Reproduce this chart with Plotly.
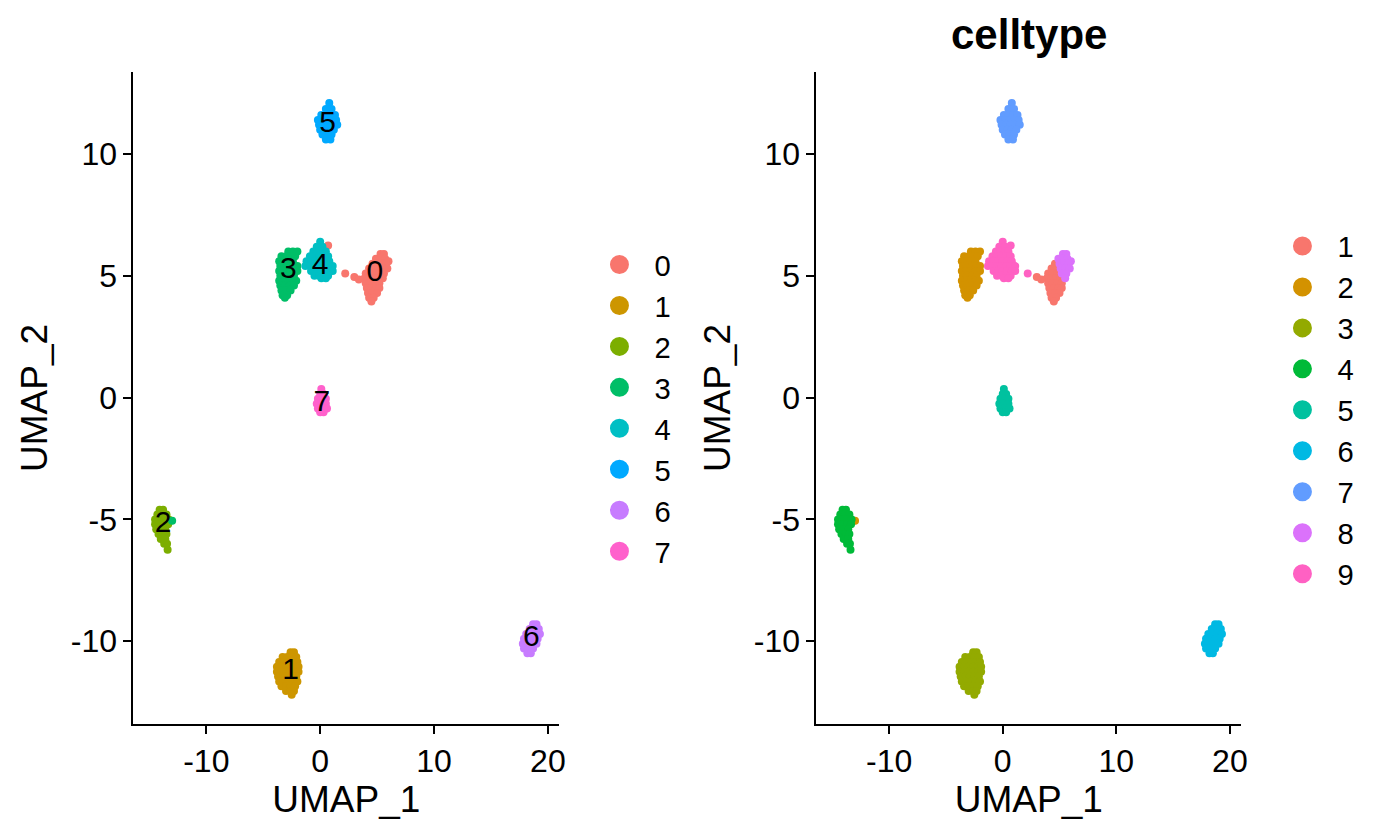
import plotly.graph_objects as go
import numpy as np

FONT = "Liberation Sans, Arial, Helvetica, sans-serif"

cluster_names = ["0", "1", "2", "3", "4", "5", "6", "7"]
cluster_colors = ["#F8766D", "#CD9600", "#7CAE00", "#00BE67",
                  "#00BFC4", "#00A9FF", "#C77CFF", "#FF61CC"]
celltype_names = ["1", "2", "3", "4", "5", "6", "7", "8", "9"]
celltype_colors = ["#F8766D", "#D39200", "#93AA00", "#00BA38", "#00C19F",
                   "#00B9E3", "#619CFF", "#DB72FB", "#FF61C3"]

# cluster 0: (UMAP_1, UMAP_2, celltype)
c0_points = [
    (5.3, 5.9, "8"), (5.6, 5.9, "8"),
    (4.9, 5.7, "8"), (5.3, 5.7, "8"), (5.7, 5.7, "8"), (6.0, 5.6, "8"),
    (4.6, 5.5, "1"), (5.0, 5.5, "8"), (5.4, 5.5, "8"), (5.8, 5.5, "8"),
    (4.3, 5.3, "1"), (4.7, 5.3, "1"), (5.1, 5.3, "8"), (5.5, 5.3, "8"), (5.9, 5.3, "8"),
    (4.0, 5.1, "1"), (4.4, 5.1, "1"), (4.8, 5.1, "1"), (5.2, 5.1, "8"), (5.6, 5.1, "8"),
    (3.9, 4.9, "1"), (4.3, 4.9, "1"), (4.7, 4.9, "1"), (5.1, 4.9, "1"), (5.5, 4.9, "8"),
    (4.0, 4.7, "1"), (4.4, 4.7, "1"), (4.8, 4.7, "1"), (5.2, 4.7, "1"),
    (4.1, 4.5, "1"), (4.5, 4.5, "1"), (4.9, 4.5, "1"), (5.2, 4.5, "1"),
    (4.2, 4.3, "1"), (4.6, 4.3, "1"), (5.0, 4.3, "1"),
    (4.3, 4.1, "1"), (4.7, 4.1, "1"), (4.5, 3.95, "1"),
    (3.0, 4.95, "1"), (3.4, 4.85, "1"), (2.2, 5.1, "9"), (0.7, 6.25, "9"),
]

c1_points = [
    (-2.6, -10.45), (-2.3, -10.45),
    (-3.3, -10.65), (-2.9, -10.65), (-2.5, -10.65), (-2.1, -10.65),
    (-3.6, -10.85), (-3.2, -10.85), (-2.8, -10.85), (-2.4, -10.85), (-2.0, -10.85),
    (-3.8, -11.05), (-3.4, -11.05), (-3.0, -11.05), (-2.6, -11.05), (-2.2, -11.05), (-1.9, -11.05),
    (-3.8, -11.25), (-3.4, -11.25), (-3.0, -11.25), (-2.6, -11.25), (-2.2, -11.25), (-1.9, -11.25),
    (-3.7, -11.45), (-3.3, -11.45), (-2.9, -11.45), (-2.5, -11.45), (-2.1, -11.45),
    (-3.6, -11.65), (-3.2, -11.65), (-2.8, -11.65), (-2.4, -11.65), (-2.0, -11.65),
    (-3.4, -11.85), (-3.0, -11.85), (-2.6, -11.85), (-2.2, -11.85),
    (-3.0, -12.05), (-2.6, -12.05), (-2.3, -12.05), (-2.5, -12.2),
]

c2_points = [
    (-14.1, -4.6), (-13.8, -4.6),
    (-14.3, -4.8), (-13.9, -4.8), (-13.5, -4.8),
    (-14.5, -5.0), (-14.1, -5.0), (-13.7, -5.0), (-13.3, -5.0),
    (-14.5, -5.2), (-14.1, -5.2), (-13.7, -5.2), (-13.35, -5.2),
    (-14.4, -5.4), (-14.0, -5.4), (-13.6, -5.4),
    (-14.2, -5.6), (-13.8, -5.6), (-13.5, -5.6),
    (-14.0, -5.8), (-13.6, -5.8),
    (-13.7, -6.0), (-13.45, -6.0), (-13.4, -6.25),
]

c3_points = [
    (-2.8, 6.0), (-2.4, 6.0), (-2.0, 6.0),
    (-3.4, 5.8), (-3.0, 5.8), (-2.6, 5.8), (-2.2, 5.8),
    (-3.6, 5.6), (-3.2, 5.6), (-2.8, 5.6), (-2.4, 5.6),
    (-3.5, 5.4), (-3.1, 5.4), (-2.7, 5.4), (-2.3, 5.4), (-2.0, 5.4),
    (-3.6, 5.2), (-3.2, 5.2), (-2.8, 5.2), (-2.4, 5.2), (-2.0, 5.2),
    (-3.5, 5.0), (-3.1, 5.0), (-2.7, 5.0), (-2.3, 5.0),
    (-3.6, 4.8), (-3.2, 4.8), (-2.8, 4.8), (-2.4, 4.8), (-2.1, 4.8),
    (-3.5, 4.6), (-3.1, 4.6), (-2.7, 4.6), (-2.3, 4.6),
    (-3.4, 4.4), (-3.0, 4.4), (-2.6, 4.4),
    (-3.3, 4.2), (-2.9, 4.2), (-3.1, 4.1),
    (-13.0, -5.05),
]

c4_points = [
    (0.0, 6.4),
    (-0.3, 6.2), (0.2, 6.2),
    (-0.6, 6.0), (-0.2, 6.0), (0.2, 6.0), (0.5, 6.0),
    (-0.9, 5.8), (-0.5, 5.8), (-0.1, 5.8), (0.3, 5.8), (0.7, 5.8),
    (-1.2, 5.6), (-0.8, 5.6), (-0.4, 5.6), (0.0, 5.6), (0.4, 5.6), (0.8, 5.6),
    (-1.3, 5.4), (-0.9, 5.4), (-0.5, 5.4), (-0.1, 5.4), (0.3, 5.4), (0.7, 5.4), (1.1, 5.4),
    (-0.8, 5.2), (-0.4, 5.2), (0.0, 5.2), (0.4, 5.2), (0.8, 5.2), (1.1, 5.2),
    (-0.5, 5.0), (-0.1, 5.0), (0.3, 5.0), (0.7, 5.0),
    (0.1, 4.9), (0.5, 4.9),
]

c5_points = [
    (0.8, 12.1), (0.5, 11.85), (1.0, 11.85),
    (0.1, 11.6), (0.5, 11.6), (0.9, 11.6), (1.3, 11.6),
    (-0.2, 11.4), (0.2, 11.4), (0.6, 11.4), (1.0, 11.4), (1.4, 11.4),
    (-0.1, 11.2), (0.3, 11.2), (0.7, 11.2), (1.1, 11.2), (1.5, 11.2),
    (0.0, 11.0), (0.4, 11.0), (0.8, 11.0), (1.2, 11.0),
    (0.2, 10.8), (0.6, 10.8), (1.0, 10.8),
    (0.5, 10.6), (0.9, 10.6),
]

c6_points = [
    (18.7, -9.3), (19.0, -9.3),
    (18.4, -9.5), (18.8, -9.5), (19.2, -9.5),
    (18.1, -9.7), (18.5, -9.7), (18.9, -9.7), (19.3, -9.7),
    (17.9, -9.9), (18.3, -9.9), (18.7, -9.9), (19.1, -9.9),
    (17.8, -10.1), (18.2, -10.1), (18.6, -10.1), (19.0, -10.1),
    (17.9, -10.3), (18.3, -10.3), (18.7, -10.3),
    (18.2, -10.5), (18.5, -10.5),
]

c7_points = [
    (0.1, 0.35),
    (0.0, 0.15), (0.3, 0.15),
    (-0.2, -0.05), (0.2, -0.05), (0.5, -0.05),
    (-0.3, -0.25), (0.1, -0.25), (0.5, -0.25),
    (-0.2, -0.45), (0.2, -0.45), (0.6, -0.45),
    (0.0, -0.6), (0.3, -0.6),
]

# celltype of every cell in clusters 1-7 (cluster 0 is given per cell)
cluster_celltype = {"1": "3", "2": "4", "3": "2", "4": "9", "5": "7", "6": "6", "7": "5"}

x_ticks = [-10, 0, 10, 20]
x_ticktext = ["-10", "0", "10", "20"]
y_ticks = [-10, -5, 0, 5, 10]
y_ticktext = ["-10", "-5", "0", "5", "10"]

# ---- assemble long table ----
umap1, umap2, cl, ct = [], [], [], []
for x, y, t in c0_points:
    umap1.append(x); umap2.append(y); cl.append("0"); ct.append(t)
for name, pts in [("1", c1_points), ("2", c2_points), ("3", c3_points), ("4", c4_points),
                  ("5", c5_points), ("6", c6_points), ("7", c7_points)]:
    for x, y in pts:
        umap1.append(x); umap2.append(y); cl.append(name); ct.append(cluster_celltype[name])
umap1 = np.array(umap1); umap2 = np.array(umap2); cl = np.array(cl); ct = np.array(ct)

fig = go.Figure()
PT = 8

# left panel: clusters
for name, col in zip(cluster_names, cluster_colors):
    m = cl == name
    fig.add_trace(go.Scatter(x=umap1[m], y=umap2[m], mode="markers", xaxis="x", yaxis="y",
                             marker=dict(size=PT, color=col, line=dict(width=0)),
                             showlegend=False, hoverinfo="skip"))
# cluster labels at medians
lab_x = [float(np.median(umap1[cl == n])) for n in cluster_names]
lab_y = [float(np.median(umap2[cl == n])) for n in cluster_names]
fig.add_trace(go.Scatter(x=lab_x, y=lab_y, text=cluster_names, mode="text", xaxis="x", yaxis="y",
                         textfont=dict(size=30, color="black", family=FONT),
                         showlegend=False, hoverinfo="skip"))

# right panel: celltype
for name, col in zip(celltype_names, celltype_colors):
    m = ct == name
    fig.add_trace(go.Scatter(x=umap1[m], y=umap2[m], mode="markers", xaxis="x2", yaxis="y2",
                             marker=dict(size=PT, color=col, line=dict(width=0)),
                             showlegend=False, hoverinfo="skip"))

# legend entries
for name, col in zip(cluster_names, cluster_colors):
    fig.add_trace(go.Scatter(x=[None], y=[None], mode="markers", name=name, legend="legend",
                             marker=dict(size=20, color=col, line=dict(width=3, color=col)),
                             xaxis="x", yaxis="y"))
for name, col in zip(celltype_names, celltype_colors):
    fig.add_trace(go.Scatter(x=[None], y=[None], mode="markers", name=name, legend="legend2",
                             marker=dict(size=20, color=col, line=dict(width=3, color=col)),
                             xaxis="x2", yaxis="y2"))

# page body has an 8px margin on every side: keep the figure inside the window
OFF = 8
W, H = 1382 - 2 * OFF, 832 - 2 * OFF

def px(x):
    return (x - OFF) / W

def py(y):
    return 1 - (y - OFF) / H

ydom = [py(724), py(72)]
xr = [-16.4, 21.0]
yr = [-13.4, 13.37]

def xax(dom, anchor):
    return dict(domain=dom, anchor=anchor, range=xr, showline=True, linecolor="black", linewidth=2,
                ticks="outside", ticklen=8, tickwidth=2, tickcolor="black",
                tickvals=x_ticks, ticktext=x_ticktext,
                tickfont=dict(size=32, color="black", family=FONT), showgrid=False, zeroline=False,
                title=dict(text="UMAP_1", font=dict(size=37, color="black", family=FONT), standoff=3))

def yax(anchor):
    return dict(domain=ydom, anchor=anchor, range=yr, showline=True, linecolor="black", linewidth=2,
                ticks="outside", ticklen=8, tickwidth=2, tickcolor="black",
                tickvals=y_ticks, ticktext=y_ticktext,
                tickfont=dict(size=32, color="black", family=FONT), showgrid=False, zeroline=False,
                title=dict(text="UMAP_2", font=dict(size=37, color="black", family=FONT), standoff=12))

fig.update_layout(
    width=W, height=H, autosize=False,
    margin=dict(l=0, r=0, t=0, b=0),
    paper_bgcolor="white", plot_bgcolor="white",
    font=dict(family=FONT, color="black"),
    xaxis=xax([px(134), px(561.7)], "y"),
    yaxis=yax("x"),
    xaxis2=xax([px(820), px(1246.7)], "y2"),
    yaxis2=yax("x2"),
    legend=dict(x=px(587), y=py(408), xanchor="left", yanchor="middle",
                font=dict(size=29.2, color="black", family=FONT), bgcolor="rgba(0,0,0,0)",
                itemsizing="trace", itemwidth=60),
    legend2=dict(x=px(1273), y=py(410), xanchor="left", yanchor="middle",
                 font=dict(size=29.2, color="black", family=FONT), bgcolor="rgba(0,0,0,0)",
                 itemsizing="trace", itemwidth=60),
    annotations=[dict(text="<b>celltype</b>", x=px((820 + 1246.7) / 2), y=py(35),
                      xref="paper", yref="paper", xanchor="center", yanchor="middle",
                      showarrow=False, font=dict(size=42, color="black", family=FONT))],
)

fig.write_html("out.html")
